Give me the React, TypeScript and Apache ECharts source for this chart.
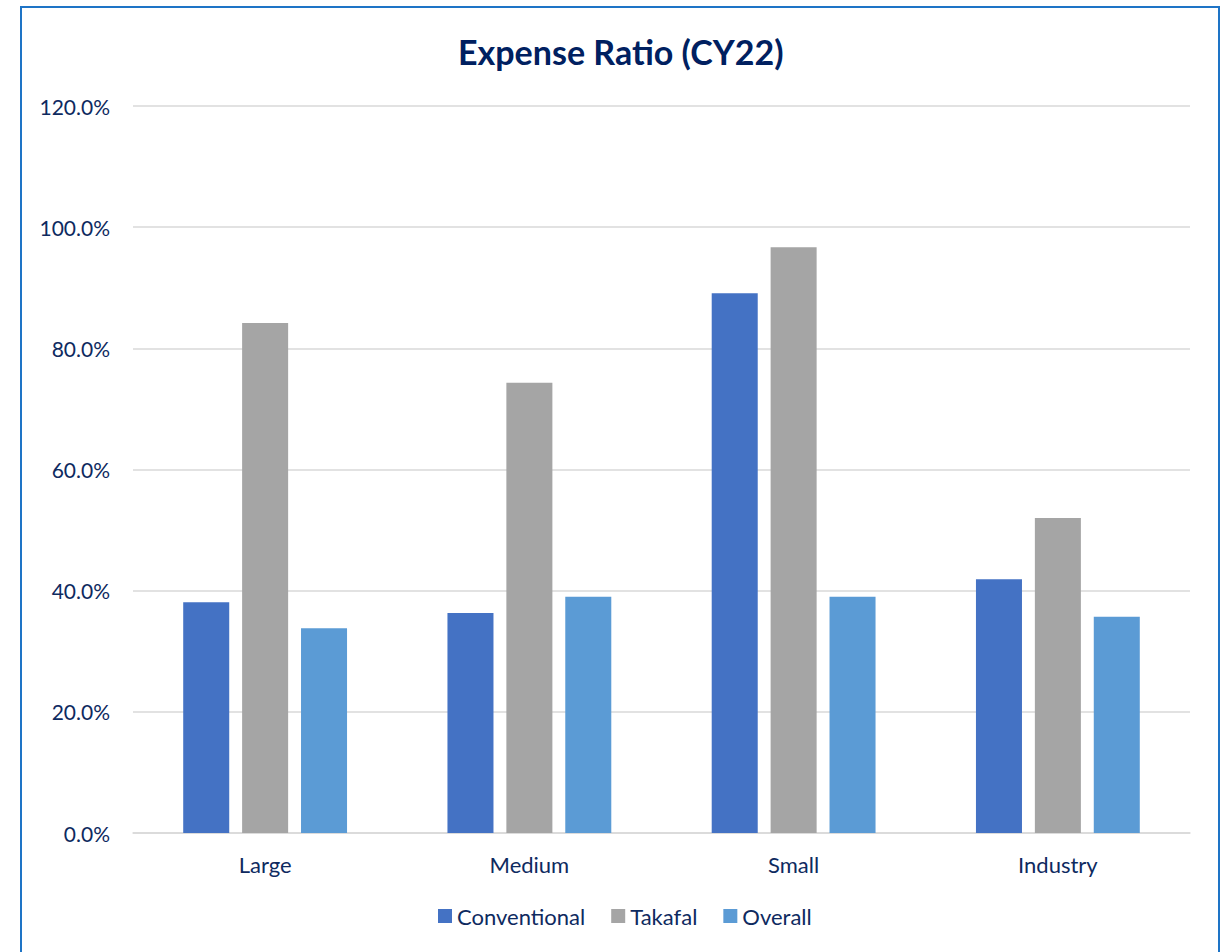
import React, { useEffect, useRef } from "react";
import * as echarts from "echarts";

const categories = ["Large", "Medium", "Small", "Industry"];
const conventional = [0.381, 0.363, 0.891, 0.419];
const takafal = [0.842, 0.743, 0.967, 0.52];
const overall = [0.338, 0.39, 0.39, 0.357];
const seriesNames = ["Conventional", "Takafal", "Overall"];
const titleText = "Expense Ratio (CY22)";

const FONT = "Lato, 'Noto Sans', sans-serif";
const NAVY = "#0E2A5F";

export default function App() {
  const ref = useRef<HTMLDivElement>(null);
  useEffect(() => {
    if (!ref.current) return;
    const chart = echarts.init(ref.current, undefined, { renderer: "svg" });
    chart.setOption({
      animation: false,
      backgroundColor: "#ffffff",
      textStyle: { fontFamily: FONT },
      title: {
        text: titleText,
        left: 453,
        top: 29,
        textStyle: { fontFamily: FONT, fontWeight: "bold", fontSize: 34, color: "#002060" },
      },
      graphic: [
        {
          type: "rect",
          shape: { x: 21, y: 7, width: 1198, height: 980 },
          style: { fill: "none", stroke: "#1E74C6", lineWidth: 2 },
          silent: true,
        },
      ],
      legend: {
        bottom: 20,
        left: 433,
        itemWidth: 14,
        itemHeight: 14,
        itemGap: 26,
        icon: "rect",
        textStyle: { fontFamily: FONT, fontSize: 22, color: NAVY, padding: [0, 0, 0, 0] },
        data: seriesNames,
      },
      grid: { left: 133, right: 35, top: 106, bottom: 119, containLabel: false },
      xAxis: {
        type: "category",
        data: categories,
        axisLine: { lineStyle: { color: "#D9D9D9", width: 1.5 } },
        axisTick: { show: false },
        axisLabel: { fontFamily: FONT, fontSize: 22, color: NAVY, margin: 20 },
      },
      yAxis: {
        type: "value",
        min: 0,
        max: 1.2,
        interval: 0.2,
        axisLine: { show: false },
        axisTick: { show: false },
        splitLine: { lineStyle: { color: "#D9D9D9", width: 1.5 } },
        axisLabel: {
          fontFamily: FONT,
          fontSize: 21,
          color: NAVY,
          margin: 23,
          formatter: (v: number) => (v * 100).toFixed(1) + "%",
        },
      },
      series: [
        { name: seriesNames[0], type: "bar", data: conventional, itemStyle: { color: "#4472C4" }, barGap: "28%", barCategoryGap: "38%" },
        { name: seriesNames[1], type: "bar", data: takafal, itemStyle: { color: "#A5A5A5" }, barGap: "28%", barCategoryGap: "38%" },
        { name: seriesNames[2], type: "bar", data: overall, itemStyle: { color: "#5B9BD5" }, barGap: "28%", barCategoryGap: "38%" },
      ],
    });
    return () => chart.dispose();
  }, []);
  return (
    <div
      ref={ref}
      style={{ position: "absolute", left: 0, top: 0, width: 1225, height: 952 }}
    />
  );
}
